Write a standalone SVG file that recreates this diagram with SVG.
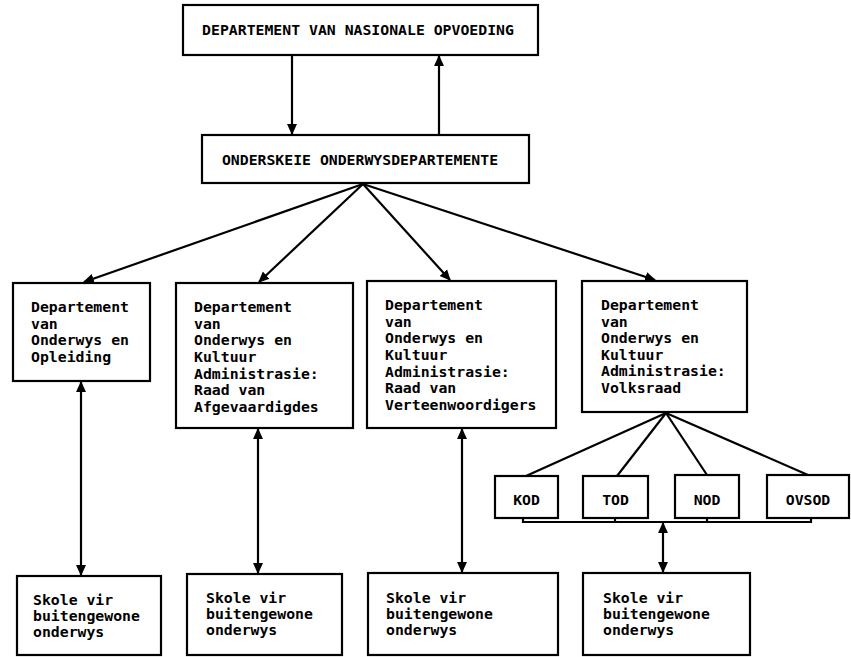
<svg xmlns="http://www.w3.org/2000/svg" width="851" height="657" viewBox="0 0 851 657">
<style>
.box{fill:#fff;stroke:#000;stroke-width:2.2}
.t{font-family:"DejaVu Sans Mono","Liberation Mono",monospace;font-weight:bold;font-size:14.8px;fill:#000}
.c{fill:none;stroke:#000;stroke-width:2.2}
</style>
<defs>
<marker id="ah" markerUnits="userSpaceOnUse" markerWidth="11" markerHeight="11" refX="9" refY="5" orient="auto-start-reverse" viewBox="0 0 10 10">
<path d="M0,0.5 L10,5 L0,9.5 Z" fill="#000"/>
</marker>
</defs>
<rect width="851" height="657" fill="#fff"/>
<g id="connectors">
<line class="c" x1="292" y1="55" x2="292" y2="134" marker-end="url(#ah)"/>
<line class="c" x1="439" y1="135" x2="439" y2="56" marker-end="url(#ah)"/>
<line class="c" x1="363" y1="184" x2="84" y2="282" marker-end="url(#ah)"/>
<line class="c" x1="363" y1="184" x2="259" y2="282" marker-end="url(#ah)"/>
<line class="c" x1="363" y1="184" x2="450" y2="280" marker-end="url(#ah)"/>
<line class="c" x1="363" y1="184" x2="655" y2="280" marker-end="url(#ah)"/>
<line class="c" x1="81" y1="382" x2="81" y2="575" marker-start="url(#ah)" marker-end="url(#ah)"/>
<line class="c" x1="258" y1="429" x2="258" y2="573" marker-start="url(#ah)" marker-end="url(#ah)"/>
<line class="c" x1="462" y1="429" x2="462" y2="572" marker-start="url(#ah)" marker-end="url(#ah)"/>
<line class="c" x1="666" y1="413" x2="526" y2="476"/>
<line class="c" x1="666" y1="413" x2="617" y2="476"/>
<line class="c" x1="666" y1="413" x2="707" y2="475"/>
<line class="c" x1="666" y1="413" x2="808" y2="475"/>
<path class="c" d="M523,518 V522 H811 V518 M615,518 V522 M707,518 V522"/>
<line class="c" x1="663" y1="523" x2="663" y2="572" marker-start="url(#ah)" marker-end="url(#ah)"/>
</g>
<g id="n-top">
<rect class="box" x="183" y="5" width="355" height="50"/>
<text class="t" x="358" y="35" text-anchor="middle">DEPARTEMENT VAN NASIONALE OPVOEDING</text>
</g>
<g id="n-onderskeie">
<rect class="box" x="202" y="135" width="327" height="48"/>
<text class="t" x="360" y="165" text-anchor="middle">ONDERSKEIE ONDERWYSDEPARTEMENTE</text>
</g>
<g id="n-deo">
<rect class="box" x="13" y="283" width="137" height="98"/>
<text class="t" x="31" y="312">Departement</text>
<text class="t" x="31" y="328.7">van</text>
<text class="t" x="31" y="345.4">Onderwys en</text>
<text class="t" x="31" y="362">Opleiding</text>
</g>
<g id="n-afgevaardigdes">
<rect class="box" x="176" y="283" width="177" height="145"/>
<text class="t" x="194" y="312">Departement</text>
<text class="t" x="194" y="328.7">van</text>
<text class="t" x="194" y="345.4">Onderwys en</text>
<text class="t" x="194" y="362">Kultuur</text>
<text class="t" x="194" y="378.7">Administrasie:</text>
<text class="t" x="194" y="395.4">Raad van</text>
<text class="t" x="194" y="412">Afgevaardigdes</text>
</g>
<g id="n-verteenwoordigers">
<rect class="box" x="367" y="281" width="189" height="147"/>
<text class="t" x="385" y="310">Departement</text>
<text class="t" x="385" y="326.7">van</text>
<text class="t" x="385" y="343.4">Onderwys en</text>
<text class="t" x="385" y="360">Kultuur</text>
<text class="t" x="385" y="376.7">Administrasie:</text>
<text class="t" x="385" y="393.4">Raad van</text>
<text class="t" x="385" y="410">Verteenwoordigers</text>
</g>
<g id="n-volksraad">
<rect class="box" x="582" y="281" width="165" height="131"/>
<text class="t" x="601" y="310">Departement</text>
<text class="t" x="601" y="326.5">van</text>
<text class="t" x="601" y="343">Onderwys en</text>
<text class="t" x="601" y="359.5">Kultuur</text>
<text class="t" x="601" y="376">Administrasie:</text>
<text class="t" x="601" y="392.5">Volksraad</text>
</g>
<g id="n-kod">
<rect class="box" x="495" y="476" width="63" height="42"/>
<text class="t" x="526.5" y="505" text-anchor="middle">KOD</text>
</g>
<g id="n-tod">
<rect class="box" x="583" y="476" width="65" height="42"/>
<text class="t" x="615.5" y="505" text-anchor="middle">TOD</text>
</g>
<g id="n-nod">
<rect class="box" x="675" y="475" width="64" height="43"/>
<text class="t" x="707" y="505" text-anchor="middle">NOD</text>
</g>
<g id="n-ovsod">
<rect class="box" x="767" y="475" width="82" height="43"/>
<text class="t" x="808" y="505" text-anchor="middle">OVSOD</text>
</g>
<g id="n-skole1">
<rect class="box" x="17" y="576" width="144" height="79"/>
<text class="t" x="33" y="605">Skole vir</text>
<text class="t" x="33" y="621">buitengewone</text>
<text class="t" x="33" y="637">onderwys</text>
</g>
<g id="n-skole2">
<rect class="box" x="187" y="574" width="155" height="81"/>
<text class="t" x="206" y="603">Skole vir</text>
<text class="t" x="206" y="619">buitengewone</text>
<text class="t" x="206" y="635">onderwys</text>
</g>
<g id="n-skole3">
<rect class="box" x="368" y="573" width="190" height="82"/>
<text class="t" x="386" y="603">Skole vir</text>
<text class="t" x="386" y="619">buitengewone</text>
<text class="t" x="386" y="635">onderwys</text>
</g>
<g id="n-skole4">
<rect class="box" x="583" y="573" width="167" height="82"/>
<text class="t" x="603" y="603">Skole vir</text>
<text class="t" x="603" y="619">buitengewone</text>
<text class="t" x="603" y="635">onderwys</text>
</g>
</svg>
